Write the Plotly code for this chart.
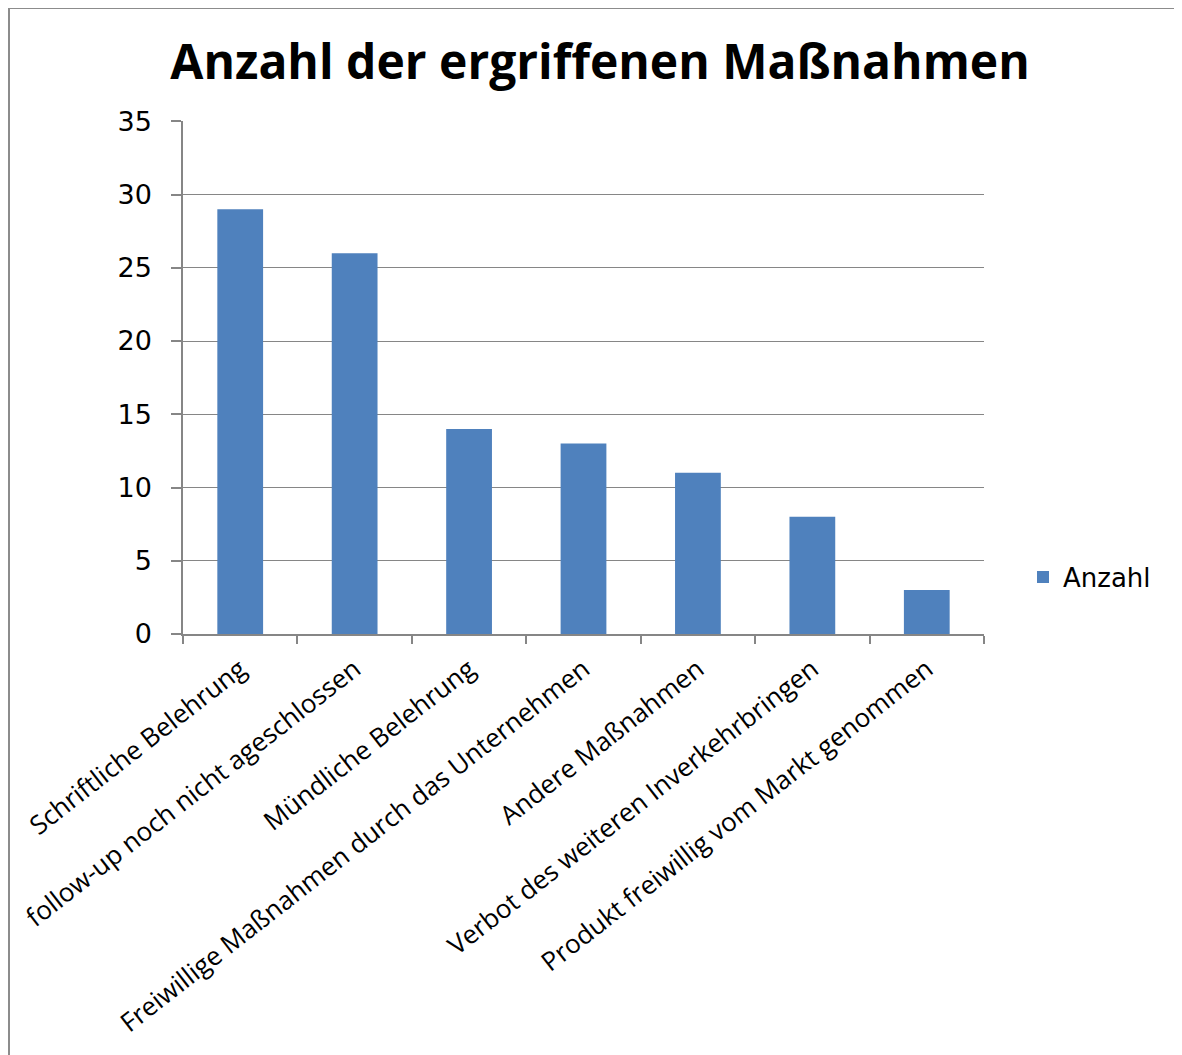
import plotly.graph_objects as go

categories = [
    "Schriftliche Belehrung",
    "follow-up noch nicht ageschlossen",
    "Mündliche Belehrung",
    "Freiwillige Maßnahmen durch das Unternehmen",
    "Andere Maßnahmen",
    "Verbot des weiteren Inverkehrbringen",
    "Produkt freiwillig vom Markt genommen",
]
values = [29, 26, 14, 13, 11, 8, 3]
series_name = "Anzahl"
title_text = "Anzahl der ergriffenen Maßnahmen"

W, H = 1182, 1055
# plot area in figure pixel coordinates (page is offset by 8px body margin)
L, R, T, B = 175, 976, 113, 626

fig = go.Figure()
fig.add_trace(go.Bar(x=categories, y=values, name=series_name,
                     marker=dict(color="#4F81BD", line=dict(width=0)),
                     showlegend=True))

gray = "#868686"
fig.update_layout(
    width=W, height=H,
    margin=dict(l=L, r=W - R, t=T, b=H - B, autoexpand=False),
    paper_bgcolor="white", plot_bgcolor="white",
    bargap=0.6,
    title=dict(text="<b>" + title_text + "</b>", x=592 / W, xanchor="center",
               y=1 - 54 / H, yanchor="middle",
               font=dict(family="Open Sans", size=48, color="black")),
    showlegend=True,
    legend=dict(x=(1015 - L) / (R - L), y=(B - 569) / (B - T), xanchor="left", yanchor="middle",
                font=dict(family="DejaVu Sans", size=26, color="black"),
                itemwidth=30, bgcolor="rgba(0,0,0,0)"),
    xaxis=dict(showline=True, linecolor=gray, linewidth=1.5, ticks="outside",
               tickson="boundaries", ticklen=8, tickcolor=gray, tickwidth=1.5,
               ticklabelstandoff=8,
               tickangle=-38, tickfont=dict(family="Open Sans", size=26, color="black"),
               showgrid=False),
    yaxis=dict(range=[0, 35.02], dtick=5, showline=True, linecolor=gray, linewidth=1.5,
               ticks="outside", ticklen=10, tickcolor=gray, tickwidth=1.5,
               ticklabelstandoff=14,
               showgrid=True, gridcolor=gray, gridwidth=1,
               tickfont=dict(family="DejaVu Sans", size=27, color="black"),
               zeroline=False),
)

# chart border (top and left visible in the image)
fig.add_shape(type="rect", xref="paper", yref="paper",
              x0=(1 - L) / (R - L), x1=(W + 20 - L) / (R - L),
              y0=(B - (H + 20)) / (B - T), y1=(B - 0) / (B - T),
              line=dict(color="#8c8c8c", width=2), fillcolor="rgba(0,0,0,0)", layer="below")

fig.write_html("out.html")
